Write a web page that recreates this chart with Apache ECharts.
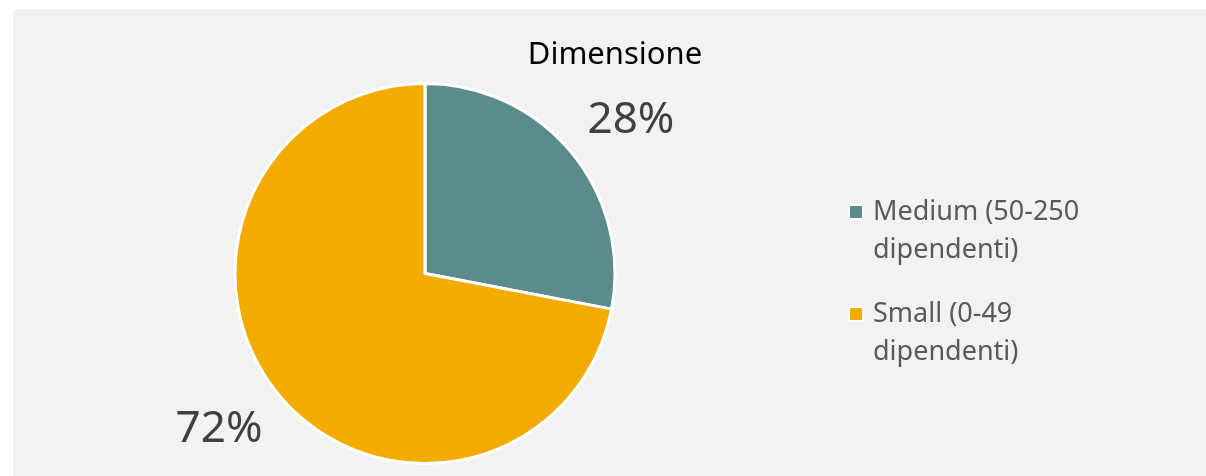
<!DOCTYPE html>
<html>
<head>
<meta charset="utf-8">
<script src="https://cdn.jsdelivr.net/npm/echarts@6/dist/echarts.min.js"></script>
<style>
html,body{margin:0;padding:0;background:#ffffff;}
#chart{position:absolute;left:13px;top:9px;width:1193px;height:467px;}
</style>
</head>
<body>
<div id="chart"></div>
<script>
const categories = ['Medium (50-250\ndipendenti)', 'Small (0-49\ndipendenti)'];
const values = [28, 72];
const colors = ['#5b8c8b', '#f3ab00'];
const titleText = 'Dimensione';

const chart = echarts.init(document.getElementById('chart'));
const labelOffsets = [[-12, -13], [12, 16]];
chart.setOption({
  backgroundColor: '#f2f2f2',
  animation: false,
  title: {
    text: titleText,
    left: 602,
    textAlign: 'center',
    top: 31,
    padding: 0,
    textStyle: {fontFamily: 'Noto Sans', fontSize: 31, fontWeight: 'normal', color: '#000000'}
  },
  legend: {
    orient: 'vertical',
    left: 835,
    top: 184,
    padding: 0,
    icon: 'path://M0,0L14,0L14,14L0,14Z M19,52',
    itemWidth: 19,
    itemHeight: 52,
    itemGap: 26,
    textStyle: {fontFamily: 'Noto Sans', fontSize: 27, color: '#595959', lineHeight: 38},
    data: categories
  },
  series: [{
    type: 'pie',
    center: [412, 264.5],
    radius: 190,
    startAngle: 90,
    clockwise: true,
    avoidLabelOverlap: false,
    itemStyle: {borderColor: '#ffffff', borderWidth: 3},
    label: {
      show: true,
      position: 'outside',
      formatter: '{d}%',
      fontFamily: 'Noto Sans',
      fontSize: 44,
      color: '#404040'
    },
    labelLine: {show: false, length: 30, length2: 0},
    labelLayout: function (p) {
      const o = labelOffsets[p.dataIndex];
      return {dx: o[0], dy: o[1]};
    },
    emphasis: {disabled: true},
    data: categories.map((c, i) => ({name: c, value: values[i], itemStyle: {color: colors[i]}}))
  }]
});
</script>
</body>
</html>
